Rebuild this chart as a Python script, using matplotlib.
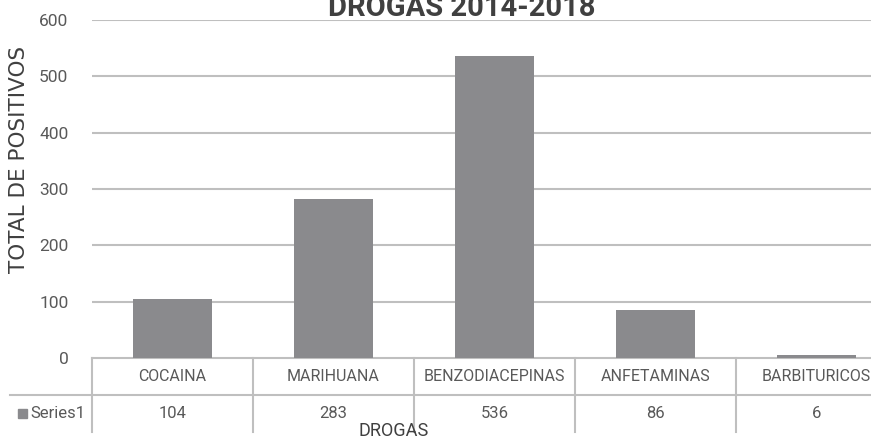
import matplotlib.pyplot as plt
from matplotlib.patches import Rectangle

drogas = ["COCAINA", "MARIHUANA", "BENZODIACEPINAS", "ANFETAMINAS", "BARBITURICOS"]
positivos = [104, 283, 536, 86, 6]
serie = "Series1"
yticks = [0, 100, 200, 300, 400, 500, 600]

NARROW = ["Roboto", "DejaVu Sans"]
GRIS_TXT = "#595959"
GRIS_LINEA = "#bfbfbf"

W, H = 871, 440
fig = plt.figure(figsize=(W / 100, H / 100), dpi=100)
# area del grafico en pixeles: x 92..871, y 20..358 (desde arriba)
ax = fig.add_axes([92 / W, (H - 358) / H, (W - 92) / W, 338 / H])

col = 161  # ancho de columna en pixeles
ax.set_xlim(-0.5, -0.5 + (W - 92) / col)
ax.set_ylim(0, 600)

x = list(range(len(drogas)))
ax.bar(x, positivos, width=0.49, color="#8a8a8d", zorder=3)

# lineas de cuadricula
for t in yticks[1:]:
    ax.axhline(t, color=GRIS_LINEA, lw=1.5, zorder=1)

ax.set_yticks(yticks)
ax.set_yticklabels([str(t) for t in yticks], family=NARROW, fontsize=12.5, color=GRIS_TXT)
ax.tick_params(axis="y", length=0, pad=17)
ax.set_xticks([])
for s in ax.spines.values():
    s.set_visible(False)

# tabla de datos debajo del eje
tr = ax.get_xaxis_transform()
y1 = -37 / 338
y2 = -74 / 338
x_izq = -0.5 - 82 / col
x_der = ax.get_xlim()[1]
ax.plot([-0.5, x_der], [0, 0], transform=tr, color=GRIS_LINEA, lw=1.5, clip_on=False)
ax.plot([x_izq, x_der], [y1, y1], transform=tr, color=GRIS_LINEA, lw=1.5, clip_on=False)
for i in range(len(drogas) + 1):
    ax.plot([i - 0.5, i - 0.5], [0, y2], transform=tr, color=GRIS_LINEA, lw=1.5, clip_on=False)

for i, (d, v) in enumerate(zip(drogas, positivos)):
    ax.text(i, (0 + y1) / 2, d, transform=tr, ha="center", va="center",
            family=NARROW, fontsize=11.5, color=GRIS_TXT, clip_on=False)
    ax.text(i, (y1 + y2) / 2, str(v), transform=tr, ha="center", va="center",
            family=NARROW, fontsize=12, color=GRIS_TXT, clip_on=False)

# leyenda de la fila
ax.add_patch(Rectangle((-0.5 - 74 / col, (y1 + y2) / 2 - 0.014), 9 / col, 0.028,
                       transform=tr, color="#8a8a8d", clip_on=False))
ax.text(-0.5 - 62 / col, (y1 + y2) / 2, serie, transform=tr, ha="left", va="center",
        family=NARROW, fontsize=12, color=GRIS_TXT, clip_on=False)

fig.text(394 / W, 1 - 431 / H, "DROGAS", ha="center", va="center",
         family=NARROW, fontsize=13, color="#404040")
fig.text(19 / W, 1 - 159 / H, "TOTAL DE POSITIVOS", rotation=90, ha="center", va="center",
         family=["DejaVu Sans"], fontsize=15.5, color="#404040")
fig.text(462 / W, 1 - 16 / H, "DROGAS 2014-2018", ha="center", va="baseline",
         family=NARROW, fontsize=21, fontweight="bold", color="#404040")

fig.savefig("out.png", dpi=100)
